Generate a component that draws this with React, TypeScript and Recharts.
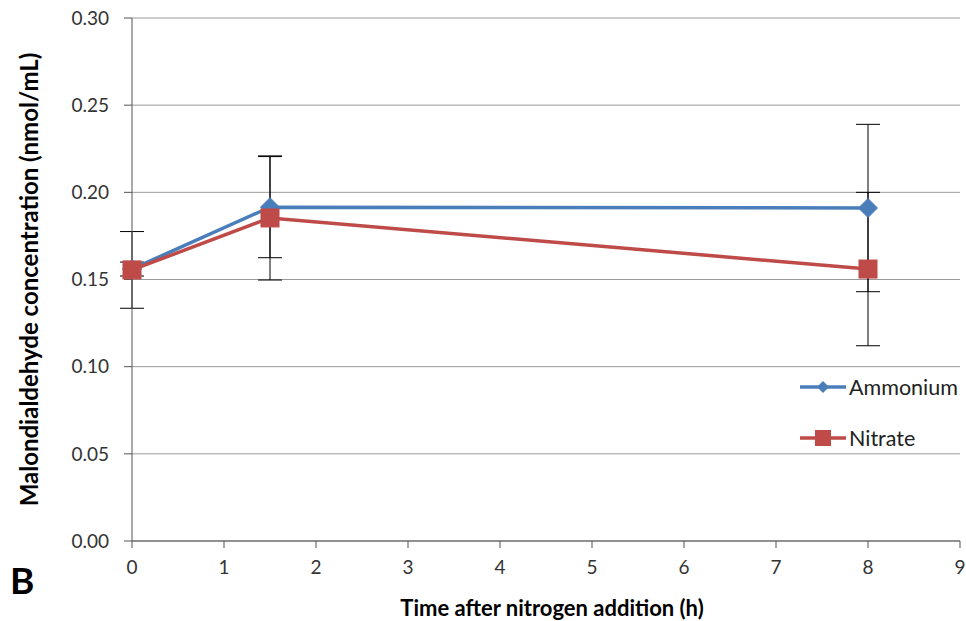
import React from 'react';
import { LineChart, Line, XAxis, YAxis, CartesianGrid, ErrorBar, Legend } from 'recharts';

const hours = [0, 1.5, 8];
const ammonium = [0.156, 0.1915, 0.191];
const ammoniumErr = [0.004, 0.029, 0.048];
const nitrate = [0.1555, 0.1853, 0.156];
const nitrateErr = [0.022, 0.0356, 0.044];
const xTicks = [0, 1, 2, 3, 4, 5, 6, 7, 8, 9];
const yTicks = [0, 0.05, 0.1, 0.15, 0.2, 0.25, 0.3];
const seriesNames = ['Ammonium', 'Nitrate'];

const data = hours.map((h, i) => ({
  hour: h,
  ammonium: ammonium[i],
  ammoniumErr: ammoniumErr[i],
  nitrate: nitrate[i],
  nitrateErr: nitrateErr[i],
}));

const BLUE = '#4A7EBB';
const RED = '#BE4B48';
const FONT = 'Lato, "Open Sans", sans-serif';

const Diamond = (props: any) => {
  const { cx, cy, index } = props;
  if (cx == null || cy == null) return <g key={`d-${index}`} />;
  const r = 9.5;
  return (
    <path
      key={`d-${index}`}
      d={`M${cx},${cy - r}L${cx + r},${cy}L${cx},${cy + r}L${cx - r},${cy}Z`}
      fill={BLUE}
      stroke={BLUE}
      strokeWidth={1}
    />
  );
};

const Square = (props: any) => {
  const { cx, cy, index } = props;
  if (cx == null || cy == null) return <g key={`s-${index}`} />;
  const s = 18;
  return <rect key={`s-${index}`} x={cx - s / 2} y={cy - s / 2} width={s} height={s} fill={RED} stroke={RED} strokeWidth={1} />;
};

const LegendContent = () => (
  <div style={{ fontFamily: FONT, fontSize: 21.5, color: '#222' }}>
    {seriesNames.map((name, i) => (
      <div key={name} style={{ display: 'flex', alignItems: 'center', height: 28, marginBottom: i === 0 ? 23 : 0 }}>
        <svg width={50} height={20} style={{ display: 'block' }}>
          <line x1={2} y1={10} x2={48} y2={10} stroke={i === 0 ? BLUE : RED} strokeWidth={3.5} />
          {i === 0 ? (
            <path d="M25,4L31,10L25,16L19,10Z" fill={BLUE} />
          ) : (
            <rect x={17} y={2} width={16} height={16} fill={RED} />
          )}
        </svg>
        <span style={{ marginLeft: 1 }}>{name}</span>
      </div>
    ))}
  </div>
);

const yLabel = (props: any) => {
  const vb = props.viewBox || { x: 0, y: 18, width: 132, height: 523 };
  const x = vb.x + 38;
  const y = vb.y + vb.height / 2;
  return (
    <text
      x={x}
      y={y}
      transform={`rotate(-90, ${x}, ${y})`}
      textAnchor="middle"
      fontFamily={FONT}
      fontWeight="bold"
      fontSize={24}
      fill="#000"
    >
      Malondialdehyde concentration (nmol/mL)
    </text>
  );
};

const xLabel = (props: any) => {
  const vb = props.viewBox || { x: 132, y: 541, width: 828, height: 80 };
  const x = vb.x + vb.width / 2 + 6;
  const y = 616;
  return (
    <text x={x} y={y} textAnchor="middle" fontFamily={FONT} fontWeight="bold" fontSize={22} fill="#000">
      Time after nitrogen addition (h)
    </text>
  );
};

export default function App() {
  return (
    <div style={{ position: 'absolute', left: 0, top: 0, width: 966, height: 621, background: '#fff' }}>
      <LineChart width={966} height={621} data={data} margin={{ top: 18, right: 6, left: 0, bottom: 0 }}>
        <CartesianGrid vertical={false} stroke="#9a9a9a" strokeWidth={1} />
        <XAxis
          dataKey="hour"
          type="number"
          domain={[0, 9]}
          ticks={xTicks}
          interval={0}
          height={80}
          tickSize={7}
          tickMargin={13}
          axisLine={{ stroke: '#555', strokeWidth: 1 }}
          tickLine={{ stroke: '#555' }}
          tick={{ fontFamily: FONT, fontSize: 19, fill: '#333' }}
          label={xLabel}
        />
        <YAxis
          type="number"
          domain={[0, 0.3]}
          ticks={yTicks}
          interval={0}
          width={132}
          tickSize={8}
          tickMargin={15}
          tickFormatter={(v: number) => v.toFixed(2)}
          axisLine={{ stroke: '#555', strokeWidth: 1 }}
          tickLine={{ stroke: '#555' }}
          tick={{ fontFamily: FONT, fontSize: 19, fill: '#333' }}
          label={yLabel}
        />
        <Legend
          layout="vertical"
          align="center"
          verticalAlign="middle"
          wrapperStyle={{ left: 798, top: 373, width: 168 }}
          content={<LegendContent />}
        />
        <Line
          type="linear"
          dataKey="ammonium"
          name="Ammonium"
          stroke={BLUE}
          strokeWidth={3.5}
          dot={Diamond}
          activeDot={false}
          isAnimationActive={false}
        >
          <ErrorBar dataKey="ammoniumErr" width={12} stroke="#000" strokeWidth={1} direction="y" isAnimationActive={false} />
        </Line>
        <Line
          type="linear"
          dataKey="nitrate"
          name="Nitrate"
          stroke={RED}
          strokeWidth={3.5}
          dot={Square}
          activeDot={false}
          isAnimationActive={false}
        >
          <ErrorBar dataKey="nitrateErr" width={12} stroke="#000" strokeWidth={1} direction="y" isAnimationActive={false} />
        </Line>
      </LineChart>
      <div style={{ position: 'absolute', left: 10, top: 558, fontFamily: FONT, fontWeight: 'bold', fontSize: 37, color: '#000', lineHeight: '44px' }}>B</div>
    </div>
  );
}
